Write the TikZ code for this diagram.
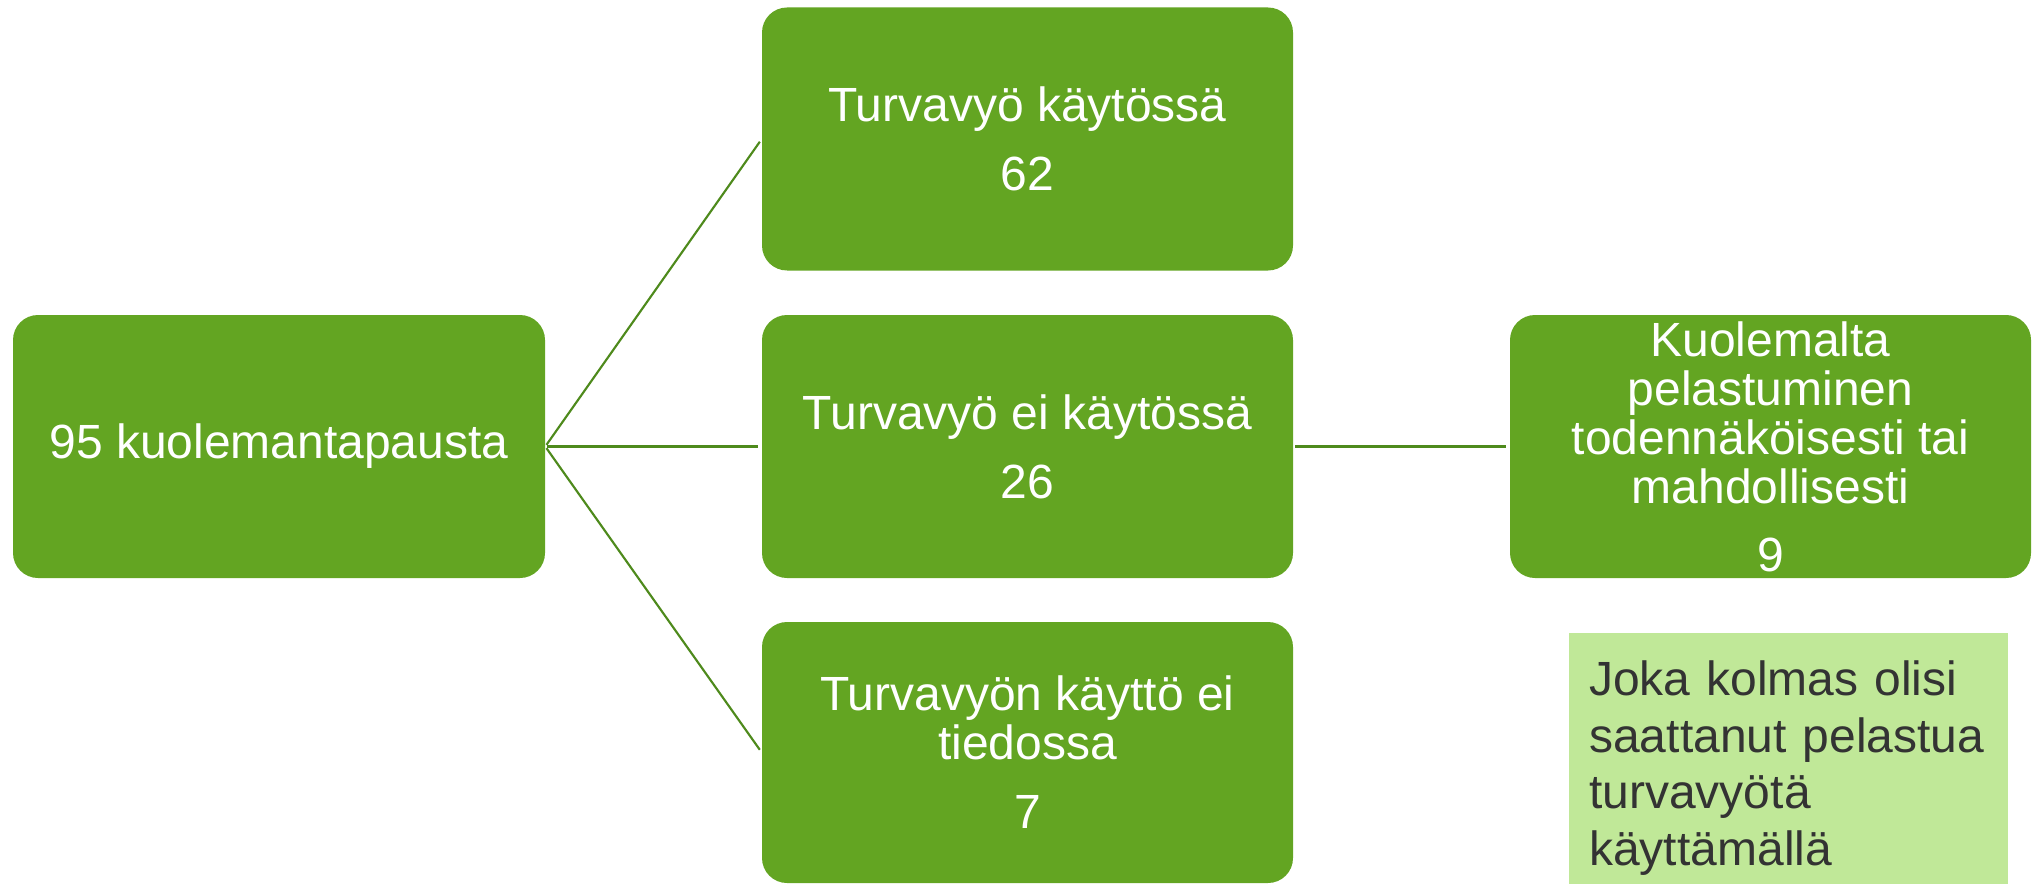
\documentclass[tikz,border=0pt]{standalone}
\usepackage{fontspec}
\setmainfont{Liberation Sans}
\definecolor{boxgreen}{RGB}{99,165,34}
\definecolor{linegreen}{RGB}{78,138,28}
\definecolor{notegreen}{RGB}{192,232,152}
\definecolor{notetext}{RGB}{51,51,51}
\begin{document}
\begin{tikzpicture}[x=0.75pt,y=-0.75pt,
  gbox/.style={fill=boxgreen, draw=none, rounded corners=18.75pt,
    minimum width=398.25pt, minimum height=197.25pt, inner sep=0pt,
    text=white, align=center, font=\fontsize{36}{36.75}\selectfont},
  conn/.style={draw=linegreen, line width=1.6pt, shorten <=1.5pt, shorten >=2.5pt},
  notebox/.style={fill=notegreen, draw=none, anchor=north west, inner xsep=15pt,
    inner ysep=20.5pt, text width=299.25pt, align=left, text=notetext,
    minimum height=200pt, font=\fontsize{36}{42.5}\selectfont}]
\useasboundingbox (0,0) rectangle (2033,884);
\node[gbox, minimum width=399pt] (total) at (279,446.5) {95 kuolemantapausta};
\node[gbox] (used) at (1027.5,139) {Turvavyö käytössä\\[15pt]62};
\node[gbox] (notused) at (1027.5,446.5) {Turvavyö ei käytössä\\[15pt]26};
\node[gbox, minimum height=195.75pt] (unknown) at (1027.5,752.5) {Turvavyön käyttö ei\\tiedossa\\[15pt]7};
\node[gbox, minimum width=390.75pt] (saved) at (1770.5,446.5) {Kuolemalta\\pelastuminen\\todennäköisesti tai\\mahdollisesti\\[14.25pt]9};
\node[notebox] (note) at (1569,633) {Joka kolmas olisi\\saattanut pelastua\\turvavyötä\\käyttämällä};
\draw[conn] (total.east) -- (used.west);
\draw[conn] (total.east) -- (notused.west);
\draw[conn] (total.east) -- (unknown.west);
\draw[conn] (notused.east) -- (saved.west);
\end{tikzpicture}
\end{document}
